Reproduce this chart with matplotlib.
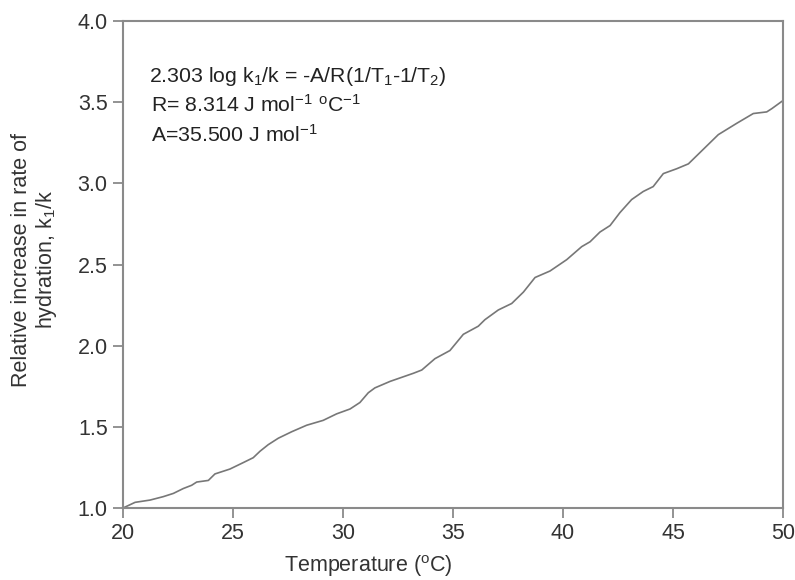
import matplotlib
matplotlib.use('Agg')
import matplotlib.pyplot as plt

plt.rcParams['font.family'] = 'Liberation Sans'
plt.rcParams['mathtext.fontset'] = 'custom'
plt.rcParams['mathtext.rm'] = 'Liberation Sans'
plt.rcParams['mathtext.it'] = 'Liberation Sans'
plt.rcParams['font.size'] = 15

# temperature (oC) and relative increase in rate of hydration k1/k
temperature = [20.0, 20.55, 21.23, 21.83, 22.29, 22.74, 23.12, 23.35, 23.88, 24.18,
               24.86, 25.47, 25.92, 26.23, 26.6, 27.06, 27.67, 28.35, 29.1, 29.71,
               30.32, 30.77, 31.15, 31.45, 32.14, 33.2, 33.58, 34.18, 34.86, 35.47,
               36.15, 36.45, 37.06, 37.67, 38.2, 38.73, 39.41, 40.17, 40.85, 41.23,
               41.68, 42.14, 42.59, 43.12, 43.65, 44.1, 44.56, 45.17, 45.7, 46.38,
               47.06, 47.9, 48.65, 49.26, 49.49, 50.0]
ratio = [1.0, 1.035, 1.049, 1.07, 1.09, 1.12, 1.14, 1.16, 1.17, 1.21,
         1.24, 1.28, 1.31, 1.35, 1.39, 1.43, 1.47, 1.51, 1.54, 1.58,
         1.61, 1.65, 1.71, 1.74, 1.78, 1.83, 1.85, 1.92, 1.97, 2.07,
         2.12, 2.16, 2.22, 2.26, 2.33, 2.42, 2.46, 2.53, 2.61, 2.64,
         2.70, 2.74, 2.82, 2.90, 2.95, 2.98, 3.06, 3.09, 3.12, 3.21,
         3.30, 3.37, 3.43, 3.44, 3.46, 3.51]

x_ticks = [20, 25, 30, 35, 40, 45, 50]
y_ticks = [1.0, 1.5, 2.0, 2.5, 3.0, 3.5, 4.0]

notes = [r'2.303 log k$_1$/k = -A/R(1/T$_1$-1/T$_2$)',
         r'R= 8.314 J mol$^{-1}$ $^{o}$C$^{-1}$',
         r'A=35.500 J mol$^{-1}$']

fig = plt.figure(figsize=(7.95, 5.8), dpi=100)
ax = fig.add_axes([0.1547, 0.1241, 0.8302, 0.8397])

ax.plot(temperature, ratio, color='#777777', linewidth=1.2)

ax.set_xlim(20, 50)
ax.set_ylim(1.0, 4.0)
ax.set_xticks(x_ticks)
ax.set_yticks(y_ticks)
ax.set_yticklabels([f'{v:.1f}' for v in y_ticks])

grey = '#8a8a8a'
for s in ax.spines.values():
    s.set_color(grey)
    s.set_linewidth(1.5)
ax.tick_params(direction='out', length=7, width=1.3, color=grey,
               labelcolor='#333333', labelsize=15.5, pad=4)

ax.set_xlabel(r'Temperature ($^{o}$C)', color='#333333', fontsize=15.5)
ax.xaxis.set_label_coords(0.371, -0.093)
ax.set_ylabel('Relative increase in rate of\nhydration, k$_1$/k', color='#333333',
              fontsize=15.5, linespacing=1.1)
ax.yaxis.set_label_coords(-0.097, 0.51)

for i, line in enumerate(notes):
    ax.text(0.039 + (0.003 if i else 0), 0.875 - i * 0.0615, line, transform=ax.transAxes,
            va='baseline', ha='left', color='#222222', fontsize=15.3)

fig.savefig('out.png', dpi=100)
